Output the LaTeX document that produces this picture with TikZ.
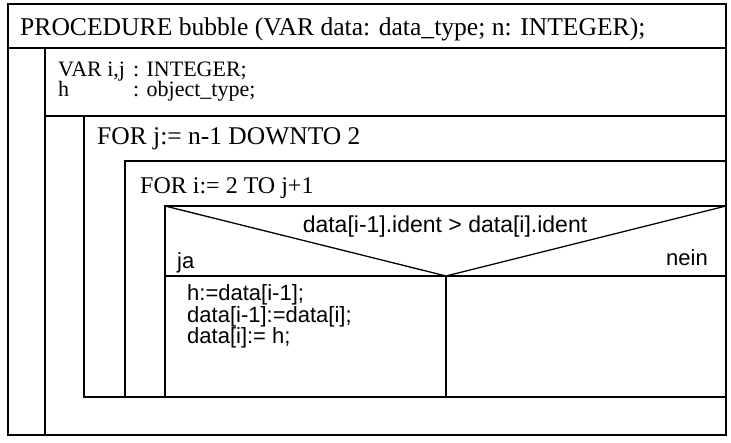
\documentclass[tikz,border=0pt]{standalone}
\usepackage{fontspec}
\setmainfont{Liberation Serif}
\setsansfont{Liberation Sans}
\tikzset{
  frame/.style={line width=1.8pt, line cap=rect},
  txt/.style={inner sep=0pt, anchor=base west},
  serifbig/.style={txt, font=\fontsize{25.6}{26}\selectfont},
  serifvar/.style={txt, align=left, font=\fontsize{22}{17}\selectfont},
  seriffor/.style={txt, font=\fontsize{24}{24}\selectfont},
  sanslbl/.style={inner sep=0pt, font=\sffamily\fontsize{22}{22}\selectfont},
  body/.style={txt, align=left, font=\sffamily\fontsize{22}{18}\selectfont},
}
\begin{document}
\begin{tikzpicture}[x=1pt,y=-1pt]
\useasboundingbox (0,0) rectangle (731,443);
% named corner coordinates
\coordinate (otl) at (8,4);
\coordinate (obr) at (726,435);
\coordinate (h1l) at (8,48);   \coordinate (h1r) at (726,48);
\coordinate (s1t) at (45,48);  \coordinate (s1b) at (45,435);
\coordinate (v1l) at (45,116); \coordinate (v1r) at (726,116);
\coordinate (s2t) at (84,116); \coordinate (s2b) at (84,397);
\coordinate (j1l) at (125,161);\coordinate (j1r) at (726,161);
\coordinate (s3b) at (125,397);
\coordinate (bl) at (84,397);  \coordinate (br) at (726,397);
\coordinate (i1l) at (165,206);\coordinate (i1r) at (726,206);
\coordinate (s4b) at (165,397);
\coordinate (yl) at (165,276); \coordinate (yr) at (726,276);
\coordinate (apex) at (446,276); \coordinate (divb) at (446,397);

\draw[frame] (otl) rectangle (obr);
\draw[frame] (h1l) -- (h1r);
\draw[frame] (s1t) -- (s1b);
\draw[frame] (v1l) -- (v1r);
\draw[frame] (s2t) -- (s2b);
\draw[frame] (j1l) -- (j1r);
\draw[frame] (j1l) -- (s3b);
\draw[frame] (bl) -- (br);
\draw[frame] (i1l) -- (i1r);
\draw[frame] (i1l) -- (s4b);
\draw[frame] (yl) -- (yr);
\draw[frame] (apex) -- (divb);
\draw[line width=1.3pt] (i1l) -- (apex) -- (i1r);

\node[serifbig] (proc) at (20,36) {PROCEDURE bubble (VAR data: data\_type; n: INTEGER);};
\node[serifvar] (var) at (58,97) {\makebox[75pt][l]{VAR i,j}: INTEGER;\\ \makebox[75pt][l]{h}: object\_type;};
\node[seriffor, font=\fontsize{25.5}{26}\selectfont] (forj) at (97,145) {FOR j:= n-1 DOWNTO 2};
\node[seriffor] (fori) at (140,194) {FOR i:= 2 TO j+1};
\node[sanslbl, anchor=base, font=\sffamily\fontsize{23}{23}\selectfont] (cond) at (445,233) {data[i-1].ident > data[i].ident};
\node[sanslbl, anchor=base west] (ja) at (177,269) {ja};
\node[sanslbl, anchor=base east] (nein) at (708,266) {nein};
\node[body] (swap) at (187,344) {h:=data[i-1];\\ data[i-1]:=data[i];\\ data[i]:= h;};
\end{tikzpicture}
\end{document}
